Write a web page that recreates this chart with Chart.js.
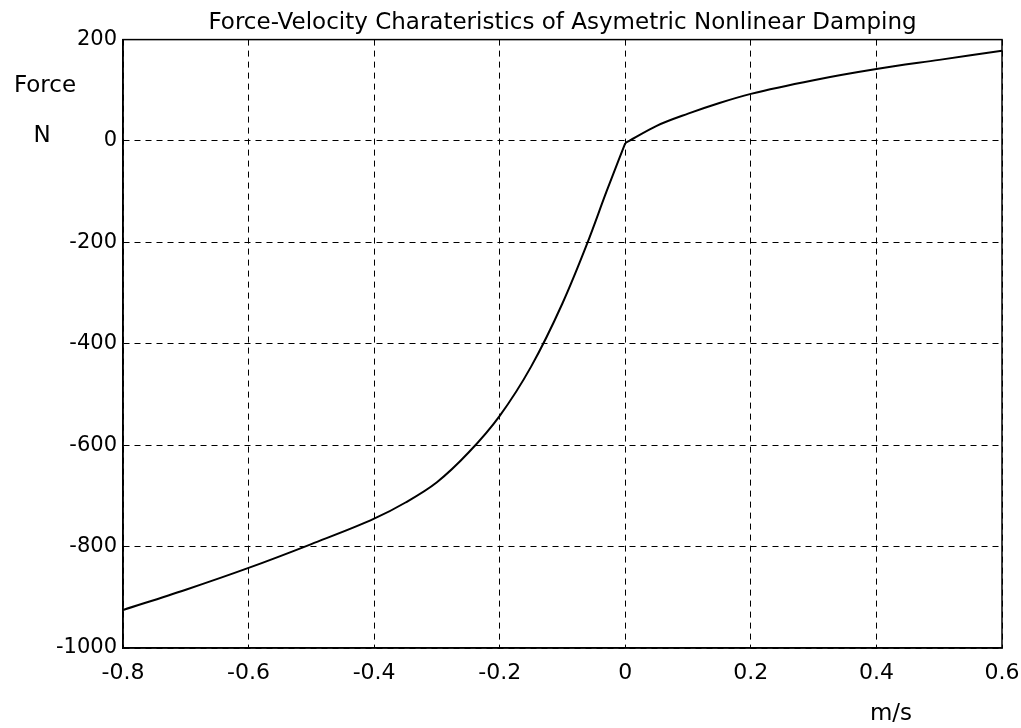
<!DOCTYPE html>
<html lang="en">
<head>
    <meta charset="UTF-8">
    <title>Force-Velocity Charateristics</title>
    <script src="https://cdn.jsdelivr.net/npm/chart.js"></script>
    <style>
        body {
            margin: 0;
            background-color: #ffffff;
        }
        #chart {
            display: block;
        }
    </style>
</head>
<body>
    <canvas id="chart" width="1021" height="728"></canvas>
    <script>
        // velocity (m/s) and force (N)
        const velocity = [-0.8, -0.7, -0.6, -0.5, -0.4, -0.35, -0.3, -0.25, -0.2, -0.15, -0.1, -0.06, -0.03, 0, 0.05, 0.1, 0.15, 0.2, 0.3, 0.4, 0.5, 0.6];
        const force = [-925, -885, -842, -795, -745, -713, -673, -615, -542, -445, -320, -200, -100, -4, 30, 54, 75, 93, 120, 142, 160, 178];

        const xTicks = [-0.8, -0.6, -0.4, -0.2, 0, 0.2, 0.4, 0.6];
        const yTicks = [-1000, -800, -600, -400, -200, 0, 200];

        const titleText = 'Force-Velocity Charateristics of Asymetric Nonlinear Damping';
        const fontName = '"DejaVu Sans", sans-serif';

        // frame round the plot plus the loose axis labels
        const framePlugin = {
            id: 'frame',
            afterDraw(chart) {
                const { ctx, chartArea: a } = chart;
                ctx.save();
                ctx.strokeStyle = '#000';
                ctx.lineWidth = 1.5;
                ctx.strokeRect(a.left, a.top, a.right - a.left, a.bottom - a.top);
                ctx.fillStyle = '#000';
                ctx.font = '23px ' + fontName;
                ctx.textAlign = 'center';
                ctx.textBaseline = 'middle';
                ctx.fillText('Force', 45, 86);
                ctx.fillText('N', 42, 136);
                ctx.fillText('m/s', 891, 714);
                ctx.restore();
            }
        };

        const points = velocity.map((v, i) => ({ x: v, y: force[i] }));
        // the curve has a kink at zero velocity, so each branch is smoothed on its own
        const compression = points.filter(p => p.x <= 0);
        const rebound = points.filter(p => p.x >= 0);

        const branch = data => ({
            data: data,
            borderColor: '#000',
            borderWidth: 2,
            pointRadius: 0,
            fill: false,
            cubicInterpolationMode: 'monotone'
        });

        new Chart(document.getElementById('chart'), {
            type: 'line',
            data: {
                datasets: [branch(compression), branch(rebound)]
            },
            options: {
                responsive: false,
                animation: false,
                layout: {
                    padding: { left: 0, right: 19, top: 0, bottom: 0 }
                },
                plugins: {
                    legend: { display: false },
                    tooltip: { enabled: false },
                    title: {
                        display: true,
                        text: titleText,
                        fullSize: false,
                        color: '#000',
                        font: { family: fontName, size: 23, weight: 'normal' },
                        padding: { top: 9, bottom: 3 }
                    }
                },
                scales: {
                    x: {
                        type: 'linear',
                        min: -0.8,
                        max: 0.6,
                        afterBuildTicks: s => { s.ticks = xTicks.map(v => ({ value: v })); },
                        afterFit: s => { s.height = 80; s.paddingRight = 19; s.paddingLeft = 0; },
                        grid: { color: '#000', lineWidth: 1, drawTicks: false },
                        border: { display: true, color: '#000', width: 1.5, dash: [6, 5] },
                        ticks: {
                            color: '#000',
                            padding: 12,
                            maxRotation: 0,
                            font: { family: fontName, size: 22 },
                            callback: v => String(Math.round(v * 10) / 10)
                        }
                    },
                    y: {
                        min: -1000,
                        max: 200,
                        afterBuildTicks: s => { s.ticks = yTicks.map(v => ({ value: v })); },
                        afterFit: s => { s.width = 123; s.paddingTop = 0; s.paddingBottom = 0; },
                        grid: { color: '#000', lineWidth: 1, drawTicks: false },
                        border: { display: true, color: '#000', width: 1.5, dash: [6, 5] },
                        ticks: {
                            color: '#000',
                            padding: 6,
                            font: { family: fontName, size: 21 },
                            callback: v => String(v)
                        }
                    }
                }
            },
            plugins: [framePlugin]
        });
    </script>
</body>
</html>
